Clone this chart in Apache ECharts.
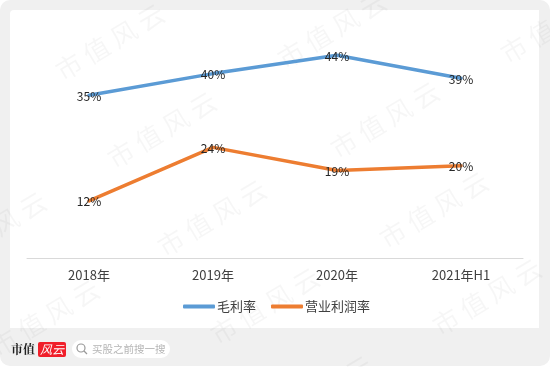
<!DOCTYPE html>
<html>
<head>
<meta charset="utf-8">
<style>
html, body { margin: 0; padding: 0; background: #fff; }
#chart { width: 550px; height: 367px; }
</style>
<script src="https://cdn.jsdelivr.net/npm/echarts@6/dist/echarts.min.js"></script>
</head>
<body>
<div id="chart"></div>
<script>
var categories = ['2018年', '2019年', '2020年', '2021年H1'];
var grossMargin = [35.3, 40, 44, 39];
var operatingMargin = [12.4, 24, 19, 20];
var fontName = '"Noto Sans CJK SC", sans-serif';

// watermark centres, repeated over the whole picture
var markSpots = [
    [110, 42], [162, 130], [212, 218], [265, 306], [318, 394],
    [332, 30], [385, 120], [434, 210], [487, 297], [540, 385],
    [555, 25], [-60, 142], [-8, 230], [45, 318], [97, 406]
];

var graphics = [
    {type: 'rect', shape: {x: 0, y: 0, width: 550, height: 366, r: 10}, style: {fill: '#f0f0f0'}},
    {type: 'rect', shape: {x: 10, y: 10, width: 529, height: 318, r: [4, 0, 0, 0]}, style: {fill: '#fff'}}
];
markSpots.forEach(function (p) {
    graphics.push({
        type: 'text',
        x: p[0],
        y: p[1],
        rotation: 31 * Math.PI / 180,
        style: {
            text: '市 值 风 云',
            font: '26px "Noto Sans CJK SC"',
            fill: 'rgba(0,0,0,0.035)',
            align: 'center',
            verticalAlign: 'middle'
        }
    });
});
// footer logo and search pill
graphics.push(
    {type: 'text', x: 11, y: 349, style: {text: '市值', font: 'bold 12px "Noto Serif CJK SC","Noto Sans CJK SC"', fill: '#222', verticalAlign: 'middle'}},
    {type: 'rect', shape: {x: 38, y: 342, width: 28, height: 15, r: 2}, style: {fill: '#f01f2a'}},
    {type: 'text', x: 52, y: 349.5, style: {text: '风云', font: 'italic 12px "Noto Sans CJK SC"', fill: '#fff', align: 'center', verticalAlign: 'middle'}},
    {type: 'rect', shape: {x: 72, y: 340, width: 98, height: 18, r: 9}, style: {fill: '#fff'}},
    {type: 'circle', shape: {cx: 81, cy: 348, r: 4}, style: {fill: 'none', stroke: '#999', lineWidth: 1.2}},
    {type: 'line', shape: {x1: 84, y1: 351, x2: 87, y2: 354}, style: {stroke: '#999', lineWidth: 1.2}},
    {type: 'text', x: 92, y: 349, style: {text: '买股之前搜一搜', font: '10.5px "Noto Sans CJK SC"', fill: '#b5b5b5', verticalAlign: 'middle'}}
);

function makeSeries(name, values, color) {
    return {
        name: name,
        type: 'line',
        data: values,
        symbol: 'circle',
        symbolSize: 1,
        showSymbol: true,
        lineStyle: {color: color, width: 3.5, cap: 'round'},
        itemStyle: {color: color},
        label: {
            show: true,
            position: 'inside',
            offset: [0, 1],
            fontFamily: fontName,
            fontSize: 12,
            color: '#262626',
            formatter: function (params) {
                return Math.round(params.value) + '%';
            }
        },
        animation: false
    };
}

var chart = echarts.init(document.getElementById('chart'), null, {renderer: 'canvas'});
chart.setOption({
    animation: false,
    graphic: graphics,
    grid: {left: 27, right: 27, top: 27.5, bottom: 109},
    legend: {
        left: 178,
        top: 295,
        icon: 'roundRect',
        itemWidth: 32,
        itemHeight: 4,
        itemGap: 15,
        textStyle: {fontFamily: fontName, fontSize: 13, color: '#404040', padding: [0, 0, 0, -3]},
        data: ['毛利率', '营业利润率']
    },
    xAxis: {
        type: 'category',
        data: categories,
        axisTick: {show: false},
        axisLine: {lineStyle: {color: '#d9d9d9', width: 1}},
        axisLabel: {fontFamily: fontName, fontSize: 13, color: '#404040', margin: 11}
    },
    yAxis: {
        type: 'value',
        min: 0,
        max: 50,
        show: false
    },
    series: [
        makeSeries('毛利率', grossMargin, '#5b9bd5'),
        makeSeries('营业利润率', operatingMargin, '#ed7d31')
    ]
});
</script>
</body>
</html>
